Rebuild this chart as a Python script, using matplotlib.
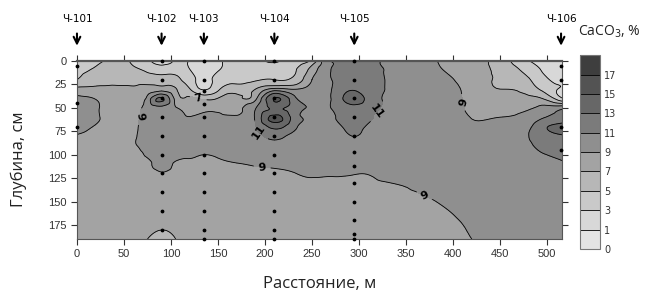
import numpy as np
import matplotlib
matplotlib.use('Agg')
import matplotlib.pyplot as plt
import matplotlib.tri as mtri

# Расстояние (м) и глубина (см) узлов сетки
x_nodes = [0, 20, 40, 60, 75, 90, 105, 120, 135, 150, 170, 190, 210, 230, 250,
           265, 280, 295, 310, 330, 360, 390, 420, 450, 475, 495, 516]
depth_nodes = [0, 10, 20, 30, 40, 50, 60, 70, 80, 90, 100, 110, 120, 135, 150, 170, 190]

# Содержание CaCO3 (%) по колонкам (одна колонка на каждое x_nodes, сверху вниз)
caco3_cols = [
    [4.2, 4.6, 5.0, 7.6, 9.4, 9.8, 9.9, 9.6, 8.9, 8.6, 8.4, 8.3, 8.2, 8.1, 8.0, 7.8, 7.2],
    [4.6, 5.3, 6.4, 7.4, 8.9, 9.2, 9.2, 8.9, 8.6, 8.4, 8.3, 8.2, 8.2, 8.1, 8.0, 7.9, 7.8],
    [5.4, 5.9, 6.6, 7.3, 7.9, 8.2, 8.4, 8.5, 8.5, 8.4, 8.3, 8.3, 8.2, 8.1, 8.0, 7.9, 7.8],
    [4.7, 5.4, 6.2, 7.3, 7.9, 8.3, 8.6, 8.8, 8.9, 8.9, 8.8, 8.6, 8.4, 8.2, 8.1, 8.0, 7.9],
    [3.4, 4.7, 6.0, 8.0, 9.6, 9.7, 9.6, 9.5, 9.4, 9.3, 9.1, 8.8, 8.6, 8.4, 8.2, 7.8, 7.0],
    [2.4, 4.0, 6.0, 8.0, 13.3, 10.6, 10.2, 10.0, 9.9, 9.7, 9.5, 9.3, 8.95, 8.6, 8.3, 7.5, 6.4],
    [3.2, 4.3, 5.6, 7.1, 8.3, 9.2, 9.6, 9.7, 9.7, 9.6, 9.3, 8.9, 8.7, 8.4, 8.2, 7.6, 7.0],
    [2.9, 3.1, 3.8, 5.1, 7.4, 8.2, 9.05, 9.5, 9.6, 9.4, 9.1, 8.8, 8.6, 8.4, 8.2, 7.9, 7.7],
    [1.9, 2.2, 2.5, 2.8, 6.6, 8.5, 9.4, 9.7, 9.6, 9.4, 9.0, 8.7, 8.5, 8.3, 8.1, 7.9, 7.8],
    [2.7, 2.9, 3.6, 4.6, 7.1, 8.5, 9.3, 9.6, 9.6, 9.5, 9.1, 8.8, 8.6, 8.4, 8.2, 8.0, 7.9],
    [3.6, 3.9, 4.5, 6.0, 7.7, 8.5, 9.1, 9.5, 9.6, 9.5, 9.3, 8.95, 8.7, 8.5, 8.3, 8.1, 7.9],
    [3.7, 4.1, 4.8, 7.0, 8.5, 10.9, 11.3, 10.9, 10.2, 9.7, 9.5, 9.1, 8.8, 8.6, 8.4, 8.2, 8.0],
    [2.7, 3.9, 5.0, 9.6, 15.1, 13.4, 15.7, 13.6, 11.6, 10.4, 9.8, 9.25, 8.8, 8.6, 8.4, 8.2, 8.0],
    [4.2, 4.6, 5.4, 8.9, 11.8, 12.2, 12.3, 11.6, 10.5, 10.1, 9.8, 9.5, 8.95, 8.8, 8.6, 8.4, 8.2],
    [5.5, 7.9, 9.0, 9.9, 10.4, 10.6, 10.6, 10.4, 10.2, 10.0, 9.8, 9.5, 9.15, 8.8, 8.6, 8.4, 8.2],
    [10.4, 10.5, 10.5, 10.5, 10.6, 10.5, 10.3, 10.2, 10.1, 10.0, 9.7, 9.4, 9.1, 8.8, 8.6, 8.4, 8.2],
    [11.5, 11.6, 11.8, 12.1, 12.5, 12.0, 11.5, 10.8, 10.3, 10.1, 9.9, 9.5, 9.1, 8.8, 8.6, 8.4, 8.2],
    [13.2, 12.2, 12.3, 12.8, 13.9, 12.4, 12.0, 11.7, 11.05, 10.4, 10.0, 9.6, 9.05, 8.7, 8.5, 8.3, 8.1],
    [11.7, 11.7, 11.8, 12.0, 12.4, 11.9, 11.3, 10.7, 10.3, 10.1, 9.9, 9.6, 9.05, 8.75, 8.6, 8.4, 8.2],
    [10.9, 10.9, 10.9, 10.9, 10.7, 10.5, 10.3, 10.2, 10.1, 10.0, 9.8, 9.6, 9.4, 8.85, 8.8, 8.5, 8.3],
    [10.1, 10.1, 10.1, 10.1, 10.1, 10.1, 10.1, 10.1, 10.0, 9.9, 9.8, 9.7, 9.5, 9.1, 8.8, 8.6, 8.4],
    [8.7, 9.0, 9.4, 9.7, 9.9, 10.0, 10.1, 10.1, 10.1, 10.0, 10.0, 9.9, 9.7, 9.4, 9.1, 8.8, 8.6],
    [7.6, 7.9, 8.1, 8.3, 8.5, 8.7, 8.95, 9.3, 9.6, 9.8, 9.9, 9.9, 9.8, 9.6, 9.4, 9.2, 9.0],
    [6.2, 6.5, 6.8, 7.0, 7.8, 8.5, 9.0, 9.3, 9.6, 9.8, 9.9, 10.0, 10.0, 9.9, 9.8, 9.6, 9.5],
    [3.5, 4.7, 5.8, 6.6, 7.6, 8.6, 9.4, 10.1, 10.6, 10.5, 10.3, 10.1, 10.0, 9.9, 9.8, 9.7, 9.6],
    [2.4, 2.9, 3.6, 4.6, 7.0, 9.6, 10.8, 12.4, 12.0, 11.4, 10.9, 10.5, 10.2, 10.0, 9.8, 9.7, 9.6],
    [1.5, 2.0, 2.5, 2.8, 3.2, 10.4, 11.6, 13.8, 12.8, 11.7, 11.2, 10.9, 10.6, 10.2, 10.0, 9.8, 9.7],
]

# Разрезы и точки отбора проб
profiles = ['Ч-101', 'Ч-102', 'Ч-103', 'Ч-104', 'Ч-105', 'Ч-106']
profile_x = [0, 90, 135, 210, 295, 515]
sample_depths = [
    [5, 45, 70],
    [0, 20, 40, 60, 80, 100, 120, 140, 160, 180],
    [0, 20, 32, 46, 60, 80, 100, 120, 140, 160, 180, 190],
    [0, 20, 40, 60, 80, 100, 120, 140, 160, 180, 190],
    [0, 20, 40, 60, 80, 97, 112, 130, 150, 170, 185, 190],
    [5, 20, 70, 95],
]

levels = [0, 1, 3, 5, 7, 9, 11, 13, 15, 17, 19]
label_levels = [7, 9, 11]
band_colors = ['#e4e4e4', '#d8d8d8', '#c9c9c9', '#b7b7b7', '#a3a3a3',
               '#8f8f8f', '#7b7b7b', '#676767', '#535353', '#3e3e3e']

Z = np.array(caco3_cols).T
X, D = np.meshgrid(x_nodes, depth_nodes)

# сглаживание изолиний средствами matplotlib (кубическая интерполяция на треугольниках)
triang = mtri.Triangulation(X.ravel() / 516.0, D.ravel() / 190.0)
refiner = mtri.UniformTriRefiner(triang)
tri_fine, z_fine = refiner.refine_field(Z.ravel(), subdiv=3)
tri_fine = mtri.Triangulation(tri_fine.x * 516.0, tri_fine.y * 190.0, tri_fine.triangles)

fig = plt.figure(figsize=(6.59, 3.03), dpi=100)
ax = fig.add_axes([0.1168, 0.2112, 0.736, 0.5875])

cf = ax.tricontourf(tri_fine, z_fine, levels=levels, colors=band_colors)
other_levels = [v for v in levels[1:-1] if v not in label_levels]
cl_other = ax.tricontour(tri_fine, z_fine, levels=other_levels, colors='k', linewidths=0.6)
cl_lab = ax.tricontour(tri_fine, z_fine, levels=label_levels, colors='k', linewidths=0.6)

labels = ax.clabel(cl_lab, inline=True, fontsize=8, fmt='%d',
                   manual=[(128, 44), (70, 60), (197, 113), (370, 143),
                           (402, 48), (197, 72), (320, 55)])
for t in labels:
    t.set_fontweight('bold')

# точки отбора
for px, deps in zip(profile_x, sample_depths):
    ax.scatter([px] * len(deps), deps, s=3, c='k', zorder=5, clip_on=False)

ax.set_xlim(0, 516)
ax.set_ylim(190, 0)
ax.set_xticks(np.arange(0, 501, 50))
ax.set_yticks(np.arange(0, 176, 25))
ax.tick_params(direction='out', length=4, width=0.8, labelsize=8, colors='#333333',
               top=True, right=True, labeltop=False, labelright=False)
for lab in ax.get_xticklabels() + ax.get_yticklabels():
    lab.set_family('Liberation Sans')
for s in ax.spines.values():
    s.set_color('#555555')
    s.set_linewidth(0.8)
ax.spines['top'].set_linewidth(1.6)

ax.set_xlabel('Расстояние, м', family='Open Sans', fontsize=12, color='#222222', labelpad=12)
ax.set_ylabel('Глубина, см', family='Open Sans', fontsize=12, color='#222222')
ax.yaxis.set_label_coords(-0.102, 0.45)

# стрелки разрезов
trans = ax.get_xaxis_transform()
for name, px in zip(profiles, profile_x):
    ax.annotate('', xy=(px, 1.07), xytext=(px, 1.17), xycoords=trans, textcoords=trans,
                arrowprops=dict(arrowstyle='->', lw=1.5, color='k', mutation_scale=12))
    ax.text(px, 1.235, name, transform=trans, ha='center', va='center', fontsize=7.5)

# шкала
cax = fig.add_axes([0.880, 0.178, 0.0304, 0.640])
cb = fig.colorbar(cf, cax=cax, spacing='uniform')
cb.add_lines(cl_other)
cb.add_lines(cl_lab, erase=False)
cb.set_ticks(levels[:-1])
cb.ax.tick_params(length=0, labelsize=7, colors='#333333', pad=3)
cb.outline.set_edgecolor('#777777')
fig.text(0.924, 0.894, 'CaCO$_3$, %', ha='center', va='center', fontsize=10,
         family='Open Sans', color='#222222')

fig.savefig('out.png', dpi=100)
